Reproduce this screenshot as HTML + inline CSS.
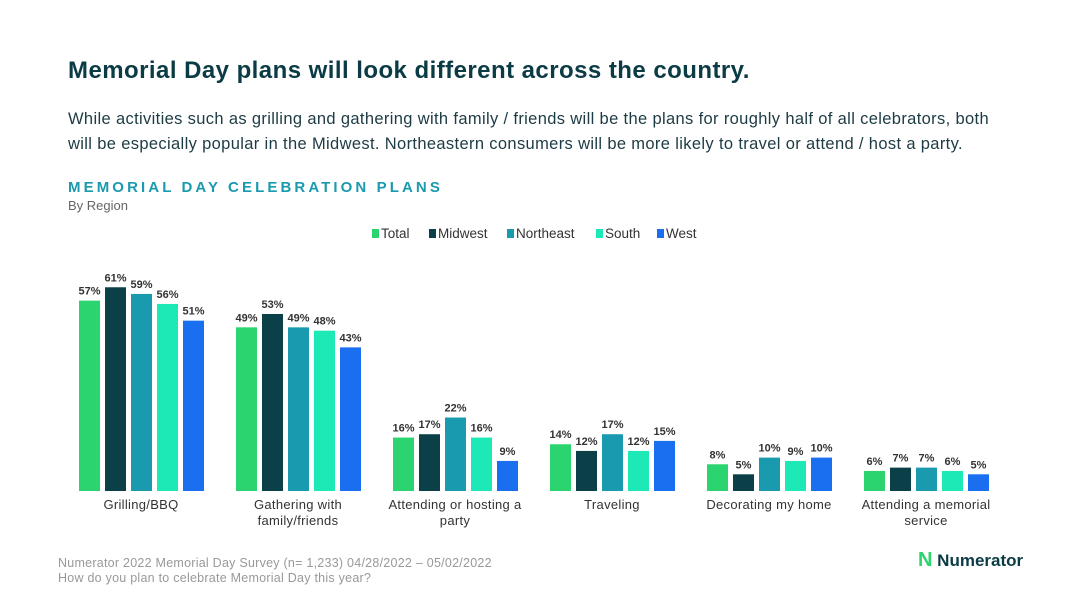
<!DOCTYPE html>
<html><head><meta charset="utf-8">
<style>
body{margin:0;width:1080px;height:608px;background:#fff;font-family:"Liberation Sans",sans-serif;position:relative;overflow:hidden}
.t{position:absolute;white-space:nowrap}
</style></head><body>
<div class="t" style="left:68px;top:57px;font-size:24px;letter-spacing:0.45px;font-weight:bold;color:#0b3b44">Memorial Day plans will look different across the country.</div>
<div class="t" style="left:68px;top:107px;font-size:16.5px;letter-spacing:0.35px;line-height:25px;color:#1d3b44">While activities such as grilling and gathering with family / friends will be the plans for roughly half of all celebrators, both<br>will be especially popular in the Midwest. Northeastern consumers will be more likely to travel or attend / host a party.</div>
<div class="t" style="left:68px;top:179px;font-size:15px;font-weight:bold;letter-spacing:3.1px;color:#1a9aae">MEMORIAL DAY CELEBRATION PLANS</div>
<div class="t" style="left:68px;top:198px;font-size:13px;color:#666">By Region</div>
<div class="t" style="left:58px;top:556px;font-size:12.5px;letter-spacing:0.25px;line-height:15px;color:#999">Numerator 2022 Memorial Day Survey (n= 1,233) 04/28/2022 – 05/02/2022<br>How do you plan to celebrate Memorial Day this year?</div>
<div class="t" style="left:918px;top:549px;font-size:17px;font-weight:bold;color:#0b3b44"><span style="color:#2bd46e;font-size:20px">N</span> Numerator</div>
<svg id="c" width="1080" height="608" style="position:absolute;left:0;top:0"></svg>
<script>
const categories=["Grilling/BBQ","Gathering with|family/friends","Attending or hosting a|party","Traveling","Decorating my home","Attending a memorial|service"];
const seriesNames=["Total","Midwest","Northeast","South","West"];
const total=[57,49,16,14,8,6];
const midwest=[61,53,17,12,5,7];
const northeast=[59,49,22,17,10,7];
const south=[56,48,16,12,9,6];
const west=[51,43,9,15,10,5];
const series=[total,midwest,northeast,south,west];
const colors=["#2bd46e","#0b4049","#1a9aae","#1de9b6","#1a6ef0"];
const svg=document.getElementById('c');const NS="http://www.w3.org/2000/svg";
const base=491,scale=3.34;
const y=v=>base-v*scale;
const gx=i=>79+i*157;
function mk(t,a){const e=document.createElementNS(NS,t);for(const k in a)e.setAttribute(k,a[k]);svg.appendChild(e);return e;}
categories.forEach((c,i)=>{
 series.forEach((s,j)=>{
  const x=gx(i)+j*26;
  const r=mk('rect',{x:x,y:y(s[i]),width:21,height:s[i]*scale,fill:colors[j]});
  
  
  const t=mk('text',{x:x+10.5,y:y(s[i])-6,'text-anchor':'middle','font-size':'11','font-weight':'bold',fill:'#333'});
  t.textContent=s[i]+'%';
  
  
 });
 c.split('|').forEach((ln,k)=>{
  const t=mk('text',{x:gx(i)+62,y:509+k*16,'text-anchor':'middle','font-size':'13','letter-spacing':'0.3',fill:'#333'});
  t.textContent=ln;
  
  
 });
});
const lx=[372,429,507,596,657];
seriesNames.forEach((n,j)=>{
 const r=mk('rect',{x:lx[j],y:229,width:7,height:9,fill:colors[j]});
 
 
 const t=mk('text',{x:lx[j]+9,y:238,'font-size':'13.5',fill:'#333'});
 t.textContent=n;
 
 
});
</script>
</body></html>
